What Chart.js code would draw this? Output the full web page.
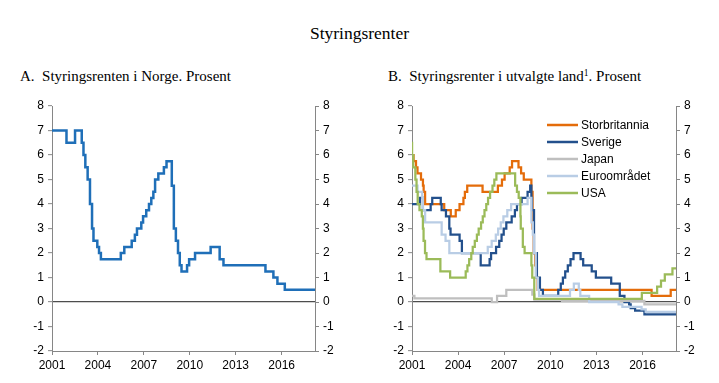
<!DOCTYPE html>
<html lang="no">
<head>
<meta charset="utf-8">
<title>Styringsrenter</title>
<script src="https://cdn.jsdelivr.net/npm/chart.js@4.4.1/dist/chart.umd.min.js"></script>
<style>
  body { margin: 0; background: #fff; }
  #side { position: relative; width: 719px; height: 383px; font-family: 'Liberation Serif', 'Times New Roman', serif; color: #000; }
  .tittel { position: absolute; top: 23px; left: 0; width: 719px; text-align: center; font-size: 17.5px; line-height: 20px; }
  .undertittel { position: absolute; top: 67px; font-size: 15px; line-height: 18px; white-space: pre; }
  .undertittel sup { font-size: 9.5px; vertical-align: 5px; line-height: 0; }
  canvas { position: absolute; top: 90px; }
</style>
</head>
<body>
<div id="side">
  <div class="tittel">Styringsrenter</div>
  <div class="undertittel" style="left:20px">A.  Styringsrenten i Norge. Prosent</div>
  <div class="undertittel" style="left:388px">B.  Styringsrenter i utvalgte land<sup>1</sup>. Prosent</div>
  <canvas id="norge" width="360" height="290" style="left:0"></canvas>
  <canvas id="utland" width="359" height="290" style="left:360px"></canvas>
</div>
<script>
// akser
var aarTicks = [2001, 2004, 2007, 2010, 2013, 2016];
var startDato = '2001-01-01';
var sluttDato = '2018-03-06';
var yMin = -2, yMaks = 8;

// A. Norge (dato for endring, ny rente)
var norgeDatoer = ['2001-01-01', '2001-12-12', '2002-07-03', '2002-12-11', '2003-01-22', '2003-03-05',
  '2003-04-30', '2003-06-25', '2003-08-13', '2003-09-17', '2003-12-17', '2004-01-28', '2004-03-11',
  '2005-06-30', '2005-09-22', '2006-03-16', '2006-05-31', '2006-07-20', '2006-11-01', '2006-12-13',
  '2007-02-28', '2007-05-02', '2007-06-27', '2007-08-15', '2007-09-26', '2007-12-12', '2008-04-23',
  '2008-06-25', '2008-10-29', '2008-12-17', '2009-02-04', '2009-03-25', '2009-05-06', '2009-06-17',
  '2009-10-28', '2009-12-16', '2010-05-05', '2011-05-12', '2011-12-14', '2012-03-14', '2014-12-11',
  '2015-06-18', '2015-09-23', '2016-03-16', sluttDato];
var norgeRente = [7, 6.5, 7, 6.5, 6, 5.5,
  5, 4, 3, 2.5, 2.25, 2, 1.75,
  2, 2.25, 2.5, 2.75, 3, 3.25, 3.5,
  3.75, 4, 4.25, 4.5, 5, 5.25, 5.5,
  5.75, 4.75, 3, 2.5, 2, 1.5, 1.25,
  1.5, 1.75, 2, 2.25, 1.75, 1.5, 1.25,
  1, 0.75, 0.5, 0.5];

// B. Utvalgte land
var ukDatoer = ['2001-01-01', '2001-02-08', '2001-04-05', '2001-05-10', '2001-08-02', '2001-09-18',
  '2001-10-04', '2001-11-08', '2003-02-06', '2003-07-10', '2003-11-06', '2004-02-05', '2004-05-06',
  '2004-06-10', '2004-08-05', '2005-08-04', '2006-08-03', '2006-11-09', '2007-01-11', '2007-05-10',
  '2007-07-05', '2007-12-06', '2008-02-07', '2008-04-10', '2008-10-08', '2008-11-06', '2008-12-04',
  '2009-01-08', '2009-02-05', '2009-03-05', '2016-08-04', '2017-11-02', sluttDato];
var ukRente = [6, 5.75, 5.5, 5.25, 5, 4.75,
  4.5, 4, 3.75, 3.5, 3.75, 4, 4.25,
  4.5, 4.75, 4.5, 4.75, 5, 5.25, 5.5,
  5.75, 5.5, 5.25, 5, 4.5, 3, 2,
  1.5, 1, 0.5, 0.25, 0.5, 0.5];

var sverigeDatoer = ['2001-01-01', '2001-07-06', '2001-09-17', '2002-03-19', '2002-04-26', '2002-11-15',
  '2002-12-05', '2003-03-17', '2003-06-05', '2003-07-04', '2004-02-06', '2004-03-31', '2005-06-21',
  '2006-01-20', '2006-02-24', '2006-06-21', '2006-09-05', '2006-10-30', '2006-12-20', '2007-02-21',
  '2007-06-27', '2007-09-12', '2007-10-31', '2008-02-20', '2008-07-09', '2008-09-10', '2008-10-08',
  '2008-10-23', '2008-12-10', '2009-02-18', '2009-04-29', '2009-07-08', '2010-07-07', '2010-09-07',
  '2010-10-27', '2010-12-21', '2011-02-22', '2011-04-26', '2011-07-05', '2011-12-21', '2012-02-22',
  '2012-09-12', '2012-12-19', '2013-12-18', '2014-07-09', '2014-10-29', '2015-02-18', '2015-03-25',
  '2015-07-08', '2016-02-17', sluttDato];
var sverigeRente = [4, 4.25, 3.75, 4, 4.25, 4,
  3.75, 3.5, 3, 2.75, 2.5, 2, 1.5,
  1.75, 2, 2.25, 2.5, 2.75, 3, 3.25,
  3.5, 3.75, 4, 4.25, 4.5, 4.75, 4.25,
  3.75, 2, 1, 0.5, 0.25, 0.5, 0.75,
  1, 1.25, 1.5, 1.75, 2, 1.75, 1.5,
  1.25, 1, 0.75, 0.25, 0, -0.1, -0.25,
  -0.35, -0.5, -0.5];

var japanDatoer = ['2001-01-01', '2001-02-28', '2006-03-09', '2006-07-14', '2007-02-21', '2008-10-31',
  '2008-12-19', '2010-10-05', '2016-02-16', sluttDato];
var japanRente = [0.25, 0.15, 0, 0.25, 0.5, 0.3,
  0.1, 0.05, -0.1, -0.1];

var euroDatoer = ['2001-01-01', '2001-05-11', '2001-08-31', '2001-09-18', '2001-11-09', '2002-12-06',
  '2003-03-07', '2003-06-06', '2005-12-06', '2006-03-08', '2006-06-15', '2006-08-09', '2006-10-11',
  '2006-12-13', '2007-03-14', '2007-06-13', '2008-07-09', '2008-10-09', '2008-11-12', '2008-12-10',
  '2009-01-21', '2009-03-11', '2009-04-08', '2011-04-13', '2011-07-13', '2011-11-09', '2011-12-14',
  '2012-07-11', '2014-06-11', '2014-09-10', '2015-12-09', '2016-03-16', sluttDato];
var euroRente = [4.75, 4.5, 4.25, 3.75, 3.25, 2.75,
  2.5, 2, 2.25, 2.5, 2.75, 3, 3.25,
  3.5, 3.75, 4, 4.25, 3.25, 2.75, 2,
  1, 0.5, 0.25, 0.5, 0.75, 0.5, 0.25,
  0, -0.1, -0.2, -0.3, -0.4, -0.4];

var usaDatoer = ['2001-01-01', '2001-01-03', '2001-01-31', '2001-03-20', '2001-04-18', '2001-05-15',
  '2001-06-27', '2001-08-21', '2001-09-17', '2001-10-02', '2001-11-06', '2001-12-11', '2002-11-06',
  '2003-06-25', '2004-06-30', '2004-08-10', '2004-09-21', '2004-11-10', '2004-12-14', '2005-02-02',
  '2005-03-22', '2005-05-03', '2005-06-30', '2005-08-09', '2005-09-20', '2005-11-01', '2005-12-13',
  '2006-01-31', '2006-03-28', '2006-05-10', '2006-06-29', '2007-09-18', '2007-10-31', '2007-12-11',
  '2008-01-22', '2008-01-30', '2008-03-18', '2008-04-30', '2008-10-08', '2008-10-29', '2008-12-16',
  '2015-12-16', '2016-12-14', '2017-03-15', '2017-06-14', '2017-12-13', sluttDato];
var usaRente = [6.5, 6, 5.5, 5, 4.5, 4,
  3.75, 3.5, 3, 2.5, 2, 1.75, 1.25,
  1, 1.25, 1.5, 1.75, 2, 2.25, 2.5,
  2.75, 3, 3.25, 3.5, 3.75, 4, 4.25,
  4.5, 4.75, 5, 5.25, 4.75, 4.5, 4.25,
  3.5, 3, 2.25, 2, 1.5, 1, 0.125,
  0.375, 0.625, 0.875, 1.125, 1.375, 1.375];

var akseFarge = '#868686';
var nullFarge = '#4d4d4d';
var tickFont = { family: "'Liberation Sans', Arial, sans-serif", size: 12 };

function tilAar(dato) {
  var d = dato.split('-').map(Number);
  return d[0] + ((d[1] - 1) + (d[2] - 1) / 31) / 12;
}

function punkter(datoer, verdier) {
  return datoer.map(function(dato, i) {
    return { x: tilAar(dato), y: verdier[i] };
  });
}

function serie(navn, datoer, verdier, farge, bredde, rekkefolge) {
  return {
    label: navn,
    data: punkter(datoer, verdier),
    borderColor: farge,
    backgroundColor: farge,
    borderWidth: bredde,
    stepped: true,
    pointRadius: 0,
    fill: false,
    order: rekkefolge
  };
}

function skalaer(venstreBredde, hoyreBredde) {
  var yTicks = { stepSize: 1, padding: 4, color: '#000', font: tickFont };
  return {
    x: {
      type: 'linear',
      min: tilAar(startDato),
      max: tilAar(sluttDato),
      afterBuildTicks: function(akse) {
        akse.ticks = aarTicks.map(function(v) { return { value: v }; });
      },
      afterFit: function(s) { s.height = 29; },
      grid: { drawOnChartArea: false, tickLength: 4, tickColor: akseFarge },
      border: { color: akseFarge },
      ticks: {
        autoSkip: false, maxRotation: 0, padding: 3, color: '#000', font: tickFont,
        callback: function(v) { return String(v); }
      }
    },
    y: {
      position: 'left',
      min: yMin, max: yMaks,
      afterFit: function(s) { s.width = venstreBredde; },
      grid: {
        color: function(c) { return c.tick && c.tick.value === 0 ? nullFarge : 'rgba(0,0,0,0)'; },
        lineWidth: 1.3,
        tickLength: 4, tickColor: akseFarge, tickWidth: 1
      },
      border: { color: akseFarge },
      ticks: yTicks
    },
    y2: {
      position: 'right',
      min: yMin, max: yMaks,
      afterFit: function(s) { s.width = hoyreBredde; },
      grid: { drawOnChartArea: false, tickLength: 4, tickColor: akseFarge },
      border: { color: akseFarge },
      ticks: yTicks
    }
  };
}

var tegnforklaring = {
  id: 'tegnforklaring',
  afterDraw: function(chart) {
    var ctx = chart.ctx, area = chart.chartArea;
    var x0 = area.left + 135, y0 = area.top + 19;
    var liste = chart.data.datasets.slice();
    ctx.save();
    ctx.font = "12px 'Liberation Sans', Arial, sans-serif";
    ctx.textBaseline = 'middle';
    liste.forEach(function(ds, i) {
      var y = y0 + i * 17;
      ctx.strokeStyle = ds.borderColor;
      ctx.lineWidth = 2.5;
      ctx.beginPath();
      ctx.moveTo(x0, y);
      ctx.lineTo(x0 + 31, y);
      ctx.stroke();
      ctx.fillStyle = '#000';
      ctx.fillText(ds.label, x0 + 34, y + 1);
    });
    ctx.restore();
  }
};

var felles = {
  responsive: false,
  animation: false,
  layout: { padding: { top: 16, bottom: 0, left: 0, right: 0 } },
  plugins: { legend: { display: false }, tooltip: { enabled: false } }
};

new Chart(document.getElementById('norge'), {
  type: 'line',
  data: { datasets: [serie('Norge', norgeDatoer, norgeRente, '#1f6fb8', 2.5, 0)] },
  options: Object.assign({}, felles, { scales: skalaer(52, 45) })
});

new Chart(document.getElementById('utland'), {
  type: 'line',
  data: {
    datasets: [
      serie('Storbritannia', ukDatoer, ukRente, '#e46c0a', 2.25, 5),
      serie('Sverige', sverigeDatoer, sverigeRente, '#23508c', 2.25, 4),
      serie('Japan', japanDatoer, japanRente, '#bfbfbf', 2.25, 3),
      serie('Euroområdet', euroDatoer, euroRente, '#b9cde5', 2.25, 2),
      serie('USA', usaDatoer, usaRente, '#9bbb59', 2.25, 1)
    ]
  },
  options: Object.assign({}, felles, { scales: skalaer(52, 43) }),
  plugins: [tegnforklaring]
});
</script>
</body>
</html>
